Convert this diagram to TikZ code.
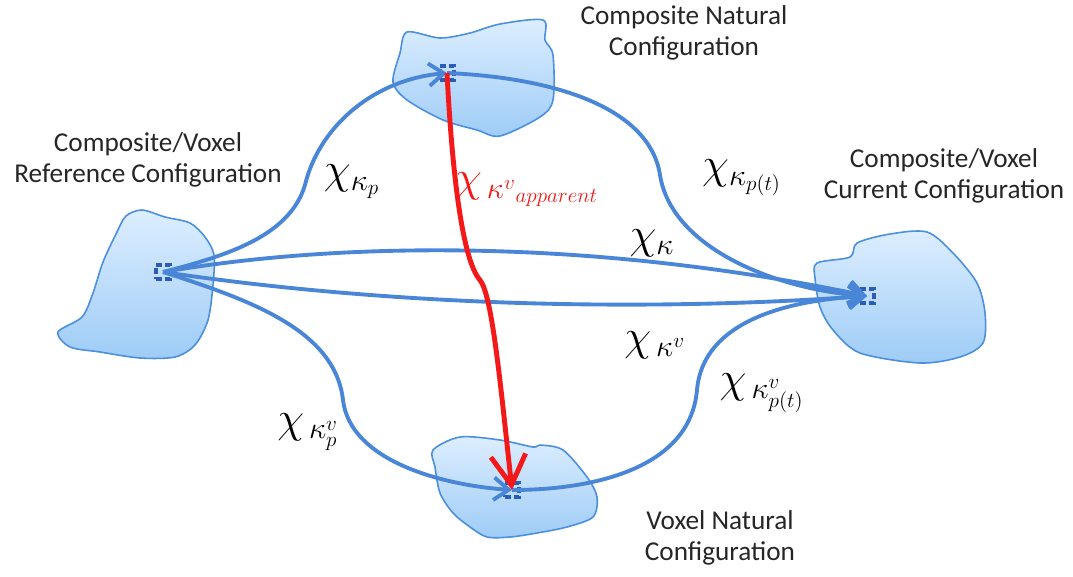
\documentclass[tikz,border=0pt]{standalone}
\usepackage{fontspec}
\setmainfont{Carlito}
\usetikzlibrary{arrows.meta,positioning}
\definecolor{flow}{HTML}{4A86D8}
\definecolor{apparent}{HTML}{F41818}
\definecolor{blobedge}{HTML}{4A8FE0}
\definecolor{blobtop}{HTML}{DDEEFF}
\definecolor{blobbot}{HTML}{9ECCF6}
\definecolor{markcol}{HTML}{2A5CB8}

\tikzset{
  blob/.style={draw=blobedge, line width=0.9pt, top color=blobtop, bottom color=blobbot},
  marker/.style={draw=markcol, line width=2pt, dash pattern=on 3.5pt off 1.6pt,
    minimum size=8pt, inner sep=0pt},
  flowline/.style={flow, line width=2.2pt, -{Straight Barb[length=3mm,width=4.5mm]}},
  apparentline/.style={apparent, line width=2.8pt, -{Straight Barb[length=6mm,width=7mm]}},
  caption/.style={font=\fontsize{15.5}{17.5}\selectfont, text=black!85, align=center},
  maplbl/.style={font=\fontsize{25}{27}\selectfont},
}

\begin{document}
\begin{tikzpicture}[x=0.02cm, y=-0.02cm]
  \useasboundingbox (0,0) rectangle (1073,576);

  % configurations
  \draw[blob] plot[smooth cycle, tension=0.5] coordinates {
    (142,210) (165,217) (190,223) (205,237) (214,255) (213,285) (208,320)
    (195,345) (175,357) (140,358) (100,352) (70,347) (58,332) (82,317)
    (93,293) (103,262) (117,232) (126,216)};
  \draw[blob] plot[smooth cycle, tension=0.5] coordinates {
    (407,32) (440,38) (470,33) (500,24) (543,20) (545,40) (553,55) (553,100)
    (540,117) (500,136) (477,130) (443,120) (407,100) (393,82) (400,53)};
  \draw[blob] plot[smooth cycle, tension=0.5] coordinates {
    (817,263) (850,257) (857,243) (890,234) (927,232) (953,253) (977,283)
    (985,313) (983,343) (960,357) (920,363) (860,353) (833,330) (820,307)
    (815,278)};
  \draw[blob] plot[smooth cycle, tension=0.5] coordinates {
    (433,450) (460,437) (500,440) (533,447) (540,445) (563,450) (587,477)
    (597,497) (593,517) (567,527) (537,533) (510,537) (487,537) (470,527)
    (453,513) (440,493) (435,467)};

  \node[marker] (ref) at (163,272) {};
  \node[marker] (nat) at (447,73) {};
  \node[marker] (cur) at (867,296) {};
  \node[marker] (vox) at (512,490) {};

  % mappings
  \draw[flowline] (ref.center) .. controls (230,255) and (290,235) .. (305,185)
    .. controls (318,130) and (370,80) .. (nat.center);
  \draw[flowline] (nat.center) .. controls (560,78) and (650,110) .. (660,175)
    .. controls (672,250) and (780,290) .. (cur.center);
  \draw[flowline] (ref.center) .. controls (250,300) and (335,330) .. (343,400)
    .. controls (350,460) and (440,485) .. (vox.center);
  \draw[flowline] (vox.center) .. controls (590,490) and (690,470) .. (697,390)
    .. controls (703,320) and (790,300) .. (cur.center);
  \draw[flowline] (ref.center) .. controls (350,240) and (600,240) .. (cur.center);
  \draw[flowline] (ref.center) .. controls (350,300) and (600,315) .. (cur.center);
  \draw[apparentline] (nat.center) .. controls (452,170) and (462,260) .. (480,280)
    .. controls (492,295) and (500,380) .. (vox.center);

  \node[caption] (natlbl) at (684,33) {Composite Natural\\Configuration};
  \node[caption] (reflbl) at (148,160) {Composite/Voxel\\Reference Configuration};
  \node[caption] (curlbl) at (944,176) {Composite/Voxel\\Current Configuration};
  \node[caption] (voxlbl) at (720,538) {Voxel Natural\\Configuration};

  \node[maplbl] (chip) at (352,182) {$\chi_{\kappa_p}$};
  \node[maplbl, text=apparent] (chiapp) at (527,190) {$\chi_{\,\kappa^{v}{}_{apparent}}$};
  \node[maplbl] (chipt) at (742,178) {$\chi_{\kappa_{p(t)}}$};
  \node[maplbl] (chik) at (652,243) {$\chi_{\kappa}$};
  \node[maplbl] (chikv) at (655,345) {$\chi_{\,\kappa^{v}}$};
  \node[maplbl] (chivpt) at (762,393) {$\chi_{\,\kappa^{v}_{p(t)}}$};
  \node[maplbl] (chivp) at (308,432) {$\chi_{\,\kappa^{v}_{p}}$};
\end{tikzpicture}
\end{document}
